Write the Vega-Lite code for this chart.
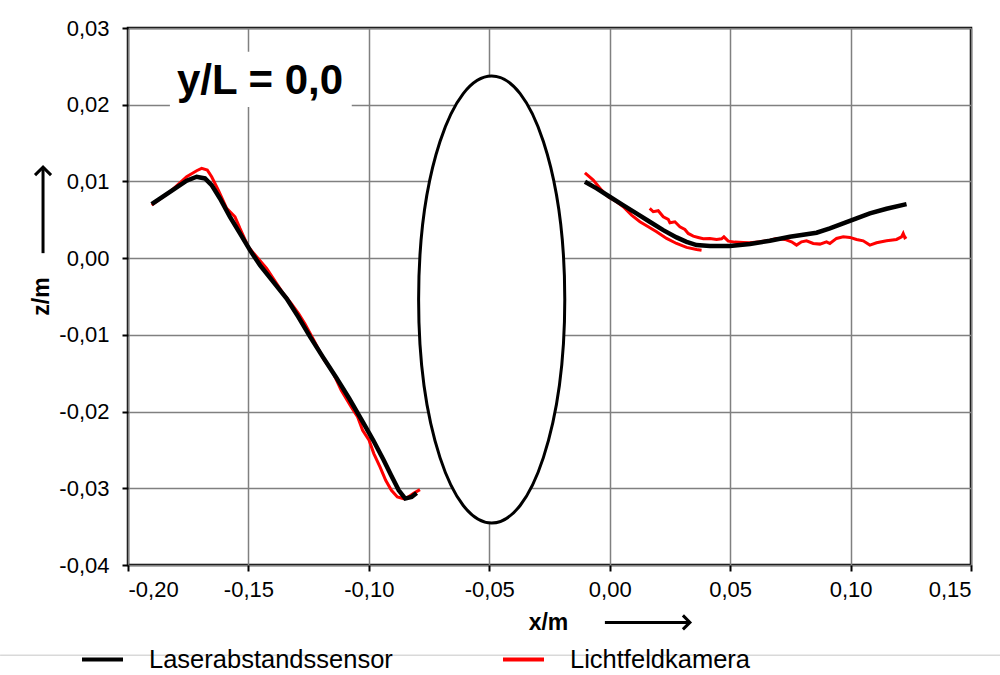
{
  "$schema": "https://vega.github.io/schema/vega-lite/v6.json",
  "width": 843,
  "height": 537,
  "autosize": {"type": "none"},
  "padding": {"left": 128, "top": 28, "right": 29, "bottom": 110},
  "background": "white",
  "config": {
    "view": {"stroke": "black", "strokeWidth": 2.5},
    "font": "Liberation Sans",
    "axis": {
      "grid": true, "gridColor": "#808080", "gridWidth": 1.5, "domain": false,
      "tickColor": "black", "tickWidth": 2, "tickSize": 6,
      "labelFont": "Liberation Sans", "labelFontSize": 22, "labelColor": "black",
      "titleFont": "Liberation Sans", "titleFontSize": 23, "titleFontWeight": "bold", "titleColor": "black"
    },
    "legend": {
      "orient": "none", "legendX": -48, "legendY": 609, "direction": "horizontal",
      "symbolType": "stroke", "symbolSize": 1681, "symbolStrokeWidth": 4,
      "labelFont": "Liberation Sans", "labelFontSize": 25.5, "labelColor": "black",
      "labelOffset": 24, "columnPadding": 102, "padding": 0, "labelLimit": 0
    }
  },
  "datasets": {
    "black": [
      {"series": "Laserabstandssensor", "seg": "L", "x": -0.19017, "z": 0.00704},
      {"series": "Laserabstandssensor", "seg": "L", "x": -0.18257, "z": 0.00865},
      {"series": "Laserabstandssensor", "seg": "L", "x": -0.17565, "z": 0.01009},
      {"series": "Laserabstandssensor", "seg": "L", "x": -0.1715, "z": 0.01061},
      {"series": "Laserabstandssensor", "seg": "L", "x": -0.16804, "z": 0.01039},
      {"series": "Laserabstandssensor", "seg": "L", "x": -0.16527, "z": 0.00952},
      {"series": "Laserabstandssensor", "seg": "L", "x": -0.16181, "z": 0.00778},
      {"series": "Laserabstandssensor", "seg": "L", "x": -0.15766, "z": 0.00539},
      {"series": "Laserabstandssensor", "seg": "L", "x": -0.15351, "z": 0.00322},
      {"series": "Laserabstandssensor", "seg": "L", "x": -0.14936, "z": 0.00104},
      {"series": "Laserabstandssensor", "seg": "L", "x": -0.14521, "z": -0.00091},
      {"series": "Laserabstandssensor", "seg": "L", "x": -0.13967, "z": -0.00309},
      {"series": "Laserabstandssensor", "seg": "L", "x": -0.13413, "z": -0.00526},
      {"series": "Laserabstandssensor", "seg": "L", "x": -0.1293, "z": -0.00765},
      {"series": "Laserabstandssensor", "seg": "L", "x": -0.12437, "z": -0.01026},
      {"series": "Laserabstandssensor", "seg": "L", "x": -0.11913, "z": -0.01287},
      {"series": "Laserabstandssensor", "seg": "L", "x": -0.1137, "z": -0.01548},
      {"series": "Laserabstandssensor", "seg": "L", "x": -0.10816, "z": -0.0183},
      {"series": "Laserabstandssensor", "seg": "L", "x": -0.10253, "z": -0.02134},
      {"series": "Laserabstandssensor", "seg": "L", "x": -0.09818, "z": -0.02374},
      {"series": "Laserabstandssensor", "seg": "L", "x": -0.09382, "z": -0.02634},
      {"series": "Laserabstandssensor", "seg": "L", "x": -0.09076, "z": -0.0283},
      {"series": "Laserabstandssensor", "seg": "L", "x": -0.08759, "z": -0.03026},
      {"series": "Laserabstandssensor", "seg": "L", "x": -0.0849, "z": -0.03134},
      {"series": "Laserabstandssensor", "seg": "L", "x": -0.08225, "z": -0.03113},
      {"series": "Laserabstandssensor", "seg": "L", "x": -0.08017, "z": -0.0306},
      {"series": "Laserabstandssensor", "seg": "R", "x": -0.01029, "z": 0.00996},
      {"series": "Laserabstandssensor", "seg": "R", "x": -0.00545, "z": 0.00909},
      {"series": "Laserabstandssensor", "seg": "R", "x": 0.0, "z": 0.008},
      {"series": "Laserabstandssensor", "seg": "R", "x": 0.00553, "z": 0.00691},
      {"series": "Laserabstandssensor", "seg": "R", "x": 0.01107, "z": 0.00583},
      {"series": "Laserabstandssensor", "seg": "R", "x": 0.01661, "z": 0.00474},
      {"series": "Laserabstandssensor", "seg": "R", "x": 0.02222, "z": 0.00365},
      {"series": "Laserabstandssensor", "seg": "R", "x": 0.02776, "z": 0.0027},
      {"series": "Laserabstandssensor", "seg": "R", "x": 0.03191, "z": 0.00213},
      {"series": "Laserabstandssensor", "seg": "R", "x": 0.03606, "z": 0.0017},
      {"series": "Laserabstandssensor", "seg": "R", "x": 0.0416, "z": 0.00157},
      {"series": "Laserabstandssensor", "seg": "R", "x": 0.0499, "z": 0.00157},
      {"series": "Laserabstandssensor", "seg": "R", "x": 0.0582, "z": 0.00185},
      {"series": "Laserabstandssensor", "seg": "R", "x": 0.06649, "z": 0.00226},
      {"series": "Laserabstandssensor", "seg": "R", "x": 0.0748, "z": 0.00278},
      {"series": "Laserabstandssensor", "seg": "R", "x": 0.08587, "z": 0.00331},
      {"series": "Laserabstandssensor", "seg": "R", "x": 0.09141, "z": 0.00387},
      {"series": "Laserabstandssensor", "seg": "R", "x": 0.09694, "z": 0.00452},
      {"series": "Laserabstandssensor", "seg": "R", "x": 0.10248, "z": 0.00518},
      {"series": "Laserabstandssensor", "seg": "R", "x": 0.10801, "z": 0.00583},
      {"series": "Laserabstandssensor", "seg": "R", "x": 0.11493, "z": 0.00644},
      {"series": "Laserabstandssensor", "seg": "R", "x": 0.12323, "z": 0.00704}
    ],
    "red": [
      {"series": "Lichtfeldkamera", "seg": "L", "x": -0.19017, "z": 0.00691},
      {"series": "Lichtfeldkamera", "seg": "L", "x": -0.18257, "z": 0.00865},
      {"series": "Lichtfeldkamera", "seg": "L", "x": -0.17565, "z": 0.01061},
      {"series": "Lichtfeldkamera", "seg": "L", "x": -0.1715, "z": 0.01139},
      {"series": "Lichtfeldkamera", "seg": "L", "x": -0.16942, "z": 0.0117},
      {"series": "Lichtfeldkamera", "seg": "L", "x": -0.16707, "z": 0.01148},
      {"series": "Lichtfeldkamera", "seg": "L", "x": -0.16527, "z": 0.01061},
      {"series": "Lichtfeldkamera", "seg": "L", "x": -0.1625, "z": 0.00887},
      {"series": "Lichtfeldkamera", "seg": "L", "x": -0.15904, "z": 0.00648},
      {"series": "Lichtfeldkamera", "seg": "L", "x": -0.15558, "z": 0.00539},
      {"series": "Lichtfeldkamera", "seg": "L", "x": -0.15351, "z": 0.00387},
      {"series": "Lichtfeldkamera", "seg": "L", "x": -0.15005, "z": 0.00148},
      {"series": "Lichtfeldkamera", "seg": "L", "x": -0.14659, "z": 0.00018},
      {"series": "Lichtfeldkamera", "seg": "L", "x": -0.14244, "z": -0.00135},
      {"series": "Lichtfeldkamera", "seg": "L", "x": -0.13829, "z": -0.0033},
      {"series": "Lichtfeldkamera", "seg": "L", "x": -0.13552, "z": -0.00461},
      {"series": "Lichtfeldkamera", "seg": "L", "x": -0.13225, "z": -0.00591},
      {"series": "Lichtfeldkamera", "seg": "L", "x": -0.12918, "z": -0.00722},
      {"series": "Lichtfeldkamera", "seg": "L", "x": -0.12661, "z": -0.00852},
      {"series": "Lichtfeldkamera", "seg": "L", "x": -0.12285, "z": -0.01069},
      {"series": "Lichtfeldkamera", "seg": "L", "x": -0.1185, "z": -0.0133},
      {"series": "Lichtfeldkamera", "seg": "L", "x": -0.11504, "z": -0.01483},
      {"series": "Lichtfeldkamera", "seg": "L", "x": -0.11148, "z": -0.01722},
      {"series": "Lichtfeldkamera", "seg": "L", "x": -0.10733, "z": -0.01939},
      {"series": "Lichtfeldkamera", "seg": "L", "x": -0.10466, "z": -0.02069},
      {"series": "Lichtfeldkamera", "seg": "L", "x": -0.10259, "z": -0.02243},
      {"series": "Lichtfeldkamera", "seg": "L", "x": -0.09992, "z": -0.02374},
      {"series": "Lichtfeldkamera", "seg": "L", "x": -0.09794, "z": -0.02548},
      {"series": "Lichtfeldkamera", "seg": "L", "x": -0.09538, "z": -0.02721},
      {"series": "Lichtfeldkamera", "seg": "L", "x": -0.09301, "z": -0.02895},
      {"series": "Lichtfeldkamera", "seg": "L", "x": -0.09064, "z": -0.03026},
      {"series": "Lichtfeldkamera", "seg": "L", "x": -0.08817, "z": -0.03113},
      {"series": "Lichtfeldkamera", "seg": "L", "x": -0.08571, "z": -0.03134},
      {"series": "Lichtfeldkamera", "seg": "L", "x": -0.08363, "z": -0.03113},
      {"series": "Lichtfeldkamera", "seg": "L", "x": -0.08156, "z": -0.03069},
      {"series": "Lichtfeldkamera", "seg": "L", "x": -0.07879, "z": -0.03017},
      {"series": "Lichtfeldkamera", "seg": "R1", "x": -0.01029, "z": 0.01113},
      {"series": "Lichtfeldkamera", "seg": "R1", "x": -0.00683, "z": 0.01018},
      {"series": "Lichtfeldkamera", "seg": "R1", "x": -0.00337, "z": 0.00887},
      {"series": "Lichtfeldkamera", "seg": "R1", "x": -0.00061, "z": 0.008},
      {"series": "Lichtfeldkamera", "seg": "R1", "x": 0.00285, "z": 0.00735},
      {"series": "Lichtfeldkamera", "seg": "R1", "x": 0.00562, "z": 0.0067},
      {"series": "Lichtfeldkamera", "seg": "R1", "x": 0.00908, "z": 0.00561},
      {"series": "Lichtfeldkamera", "seg": "R1", "x": 0.01254, "z": 0.00474},
      {"series": "Lichtfeldkamera", "seg": "R1", "x": 0.016, "z": 0.00409},
      {"series": "Lichtfeldkamera", "seg": "R1", "x": 0.01946, "z": 0.00344},
      {"series": "Lichtfeldkamera", "seg": "R1", "x": 0.02361, "z": 0.00257},
      {"series": "Lichtfeldkamera", "seg": "R1", "x": 0.02776, "z": 0.00191},
      {"series": "Lichtfeldkamera", "seg": "R1", "x": 0.03191, "z": 0.0014},
      {"series": "Lichtfeldkamera", "seg": "R1", "x": 0.03606, "z": 0.00113},
      {"series": "Lichtfeldkamera", "seg": "R1", "x": 0.03813, "z": 0.00104},
      {"series": "Lichtfeldkamera", "seg": "R2", "x": 0.01661, "z": 0.00648},
      {"series": "Lichtfeldkamera", "seg": "R2", "x": 0.01807, "z": 0.00605},
      {"series": "Lichtfeldkamera", "seg": "R2", "x": 0.02015, "z": 0.00618},
      {"series": "Lichtfeldkamera", "seg": "R2", "x": 0.02222, "z": 0.00539},
      {"series": "Lichtfeldkamera", "seg": "R2", "x": 0.0243, "z": 0.00505},
      {"series": "Lichtfeldkamera", "seg": "R2", "x": 0.02499, "z": 0.00461},
      {"series": "Lichtfeldkamera", "seg": "R2", "x": 0.02707, "z": 0.00474},
      {"series": "Lichtfeldkamera", "seg": "R2", "x": 0.02914, "z": 0.00409},
      {"series": "Lichtfeldkamera", "seg": "R2", "x": 0.03122, "z": 0.00374},
      {"series": "Lichtfeldkamera", "seg": "R2", "x": 0.0326, "z": 0.00322},
      {"series": "Lichtfeldkamera", "seg": "R2", "x": 0.03468, "z": 0.00287},
      {"series": "Lichtfeldkamera", "seg": "R2", "x": 0.03675, "z": 0.0027},
      {"series": "Lichtfeldkamera", "seg": "R2", "x": 0.03883, "z": 0.00252},
      {"series": "Lichtfeldkamera", "seg": "R2", "x": 0.0416, "z": 0.00257},
      {"series": "Lichtfeldkamera", "seg": "R2", "x": 0.04436, "z": 0.00244},
      {"series": "Lichtfeldkamera", "seg": "R2", "x": 0.04644, "z": 0.00252},
      {"series": "Lichtfeldkamera", "seg": "R2", "x": 0.04741, "z": 0.00278},
      {"series": "Lichtfeldkamera", "seg": "R2", "x": 0.04921, "z": 0.00222},
      {"series": "Lichtfeldkamera", "seg": "R2", "x": 0.05198, "z": 0.00209},
      {"series": "Lichtfeldkamera", "seg": "R2", "x": 0.05544, "z": 0.00205},
      {"series": "Lichtfeldkamera", "seg": "R2", "x": 0.0582, "z": 0.002},
      {"series": "Lichtfeldkamera", "seg": "R2", "x": 0.06235, "z": 0.00213},
      {"series": "Lichtfeldkamera", "seg": "R2", "x": 0.06649, "z": 0.00235},
      {"series": "Lichtfeldkamera", "seg": "R2", "x": 0.06926, "z": 0.00257},
      {"series": "Lichtfeldkamera", "seg": "R2", "x": 0.07272, "z": 0.00244},
      {"series": "Lichtfeldkamera", "seg": "R2", "x": 0.07549, "z": 0.00213},
      {"series": "Lichtfeldkamera", "seg": "R2", "x": 0.07757, "z": 0.0017},
      {"series": "Lichtfeldkamera", "seg": "R2", "x": 0.07964, "z": 0.00213},
      {"series": "Lichtfeldkamera", "seg": "R2", "x": 0.08172, "z": 0.00226},
      {"series": "Lichtfeldkamera", "seg": "R2", "x": 0.08449, "z": 0.00191},
      {"series": "Lichtfeldkamera", "seg": "R2", "x": 0.08726, "z": 0.00183},
      {"series": "Lichtfeldkamera", "seg": "R2", "x": 0.09002, "z": 0.00213},
      {"series": "Lichtfeldkamera", "seg": "R2", "x": 0.09141, "z": 0.00191},
      {"series": "Lichtfeldkamera", "seg": "R2", "x": 0.09418, "z": 0.00257},
      {"series": "Lichtfeldkamera", "seg": "R2", "x": 0.09694, "z": 0.00278},
      {"series": "Lichtfeldkamera", "seg": "R2", "x": 0.09971, "z": 0.0027},
      {"series": "Lichtfeldkamera", "seg": "R2", "x": 0.10248, "z": 0.00244},
      {"series": "Lichtfeldkamera", "seg": "R2", "x": 0.10524, "z": 0.00226},
      {"series": "Lichtfeldkamera", "seg": "R2", "x": 0.10801, "z": 0.0017},
      {"series": "Lichtfeldkamera", "seg": "R2", "x": 0.11078, "z": 0.002},
      {"series": "Lichtfeldkamera", "seg": "R2", "x": 0.11493, "z": 0.00226},
      {"series": "Lichtfeldkamera", "seg": "R2", "x": 0.11908, "z": 0.00244},
      {"series": "Lichtfeldkamera", "seg": "R2", "x": 0.12116, "z": 0.00278},
      {"series": "Lichtfeldkamera", "seg": "R2", "x": 0.12185, "z": 0.00322},
      {"series": "Lichtfeldkamera", "seg": "R2", "x": 0.12254, "z": 0.00265},
      {"series": "Lichtfeldkamera", "seg": "R2", "x": 0.12323, "z": 0.00278}
    ]
  },
  "encoding": {
    "x": {
      "field": "x", "type": "quantitative",
      "scale": {"domain": [-0.2, 0.15], "nice": false, "zero": false},
      "axis": {
        "title": "x/m", "values": [-0.2, -0.15, -0.1, -0.05, 0, 0.05, 0.1, 0.15],
        "labelExpr": "replace(replace(format(datum.value,'.2f'),'.',','),'\u2212','-')",
        "labelPadding": 8, "titleX": 420, "titleY": 57, "titleAlign": "center", "titleBaseline": "middle"
      }
    },
    "y": {
      "field": "z", "type": "quantitative",
      "scale": {"domain": [-0.04, 0.03], "nice": false, "zero": false},
      "axis": {
        "title": "z/m", "values": [-0.04, -0.03, -0.02, -0.01, 0, 0.01, 0.02, 0.03],
        "labelExpr": "replace(replace(format(datum.value,'.2f'),'.',','),'\u2212','-')",
        "labelPadding": 13, "titleX": -87, "titleY": 268, "titleAngle": -90, "titleAlign": "center", "titleBaseline": "middle"
      }
    }
  },
  "layer": [
    {
      "data": {"values": [{"x": -0.1826, "z": 0.0269, "x2": -0.1071, "z2": 0.0197}]},
      "mark": {"type": "rect", "fill": "white"},
      "encoding": {"x2": {"field": "x2"}, "y2": {"field": "z2"}}
    },
    {
      "data": {"values": [{"x": -0.1452, "z": 0.0231, "label": "y/L = 0,0"}]},
      "mark": {"type": "text", "font": "Liberation Sans", "fontSize": 42, "fontWeight": "bold", "align": "center", "baseline": "middle", "color": "black"},
      "encoding": {"text": {"field": "label"}}
    },
    {
      "data": {"values": [{"x": -0.049, "z": -0.0054}]},
      "mark": {"type": "point", "filled": true, "fill": "white", "stroke": "black", "strokeWidth": 3, "opacity": 1,
        "shape": "M 0 -1 C 0.1806 -1 0.327 -0.5523 0.327 0 C 0.327 0.5523 0.1806 1 0 1 C -0.1806 1 -0.327 0.5523 -0.327 0 C -0.327 -0.5523 -0.1806 -1 0 -1 Z",
        "size": 199809}
    },
    {
      "data": {"name": "red"},
      "mark": {"type": "line", "strokeWidth": 3},
      "encoding": {
        "color": {"field": "series", "type": "nominal",
          "scale": {"domain": ["Laserabstandssensor", "Lichtfeldkamera"], "range": ["black", "#ff0000"]},
          "legend": {"title": null}},
        "detail": {"field": "seg"}
      }
    },
    {
      "data": {"name": "black"},
      "mark": {"type": "line", "strokeWidth": 4.5},
      "encoding": {
        "color": {"field": "series", "type": "nominal"},
        "detail": {"field": "seg"}
      }
    },
    {
      "data": {"values": [{"x": -0.002, "x2": 0.0328, "z": -0.04748}]},
      "mark": {"type": "rule", "color": "black", "strokeWidth": 3},
      "encoding": {"x2": {"field": "x2"}}
    },
    {
      "data": {"values": [{"x": 0.0333, "z": -0.04748}]},
      "mark": {"type": "point", "filled": false, "stroke": "black", "strokeWidth": 3, "opacity": 1,
        "shape": "M -1 -1 L 0 0 L -1 1", "size": 196}
    },
    {
      "data": {"values": [{"x": -0.23528, "z": 0.00065, "z2": 0.0116}]},
      "mark": {"type": "rule", "color": "black", "strokeWidth": 3},
      "encoding": {"y2": {"field": "z2"}}
    },
    {
      "data": {"values": [{"x": -0.23528, "z": 0.01187}]},
      "mark": {"type": "point", "filled": false, "stroke": "black", "strokeWidth": 3, "opacity": 1,
        "shape": "M -1 1 L 0 0 L 1 1", "size": 256}
    },
    {
      "data": {"values": [{"x": -0.2531, "x2": 0.1651, "z": -0.05178}]},
      "mark": {"type": "rule", "color": "#d9d9d9", "strokeWidth": 1.5},
      "encoding": {"x2": {"field": "x2"}}
    }
  ]
}
